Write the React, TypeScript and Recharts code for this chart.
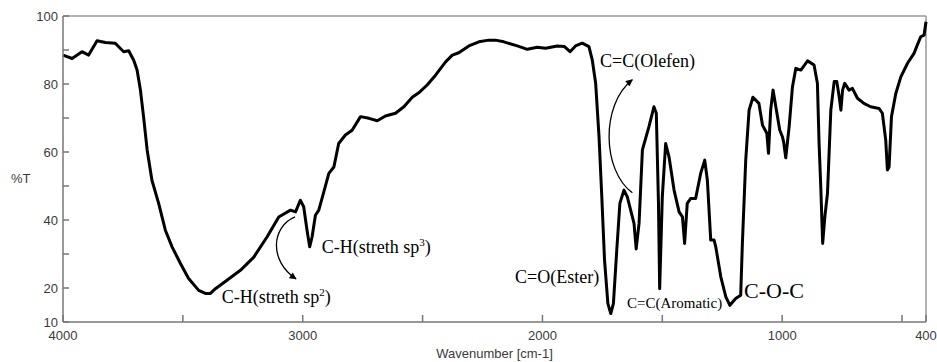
import {
  LineChart,
  Line,
  XAxis,
  YAxis,
  ReferenceLine,
  ReferenceDot,
} from "recharts";

// wavenumber (cm-1) from left to right
const wavenumbers = [
  4000, 3962, 3921, 3893, 3858, 3823, 3782, 3747, 3726, 3705, 3691, 3677, 3664,
  3649, 3629, 3601, 3573, 3545, 3510, 3476, 3434, 3406, 3385, 3364, 3316, 3260,
  3204, 3149, 3100, 3051, 3030, 3010, 2996, 2982, 2971, 2961, 2947, 2933, 2912,
  2891, 2870, 2850, 2822, 2794, 2759, 2724, 2689, 2655, 2613, 2578, 2543, 2516,
  2481, 2446, 2404, 2376, 2349, 2307, 2265, 2224, 2196, 2161, 2105, 2063, 2022,
  1987, 1938, 1908, 1885, 1862, 1834, 1806, 1792, 1778, 1764, 1753, 1741, 1727,
  1715, 1704, 1690, 1677, 1660, 1646, 1632, 1618, 1609, 1597, 1583, 1556, 1535,
  1525, 1516, 1511, 1500, 1486, 1472, 1451, 1430, 1416, 1407, 1396, 1382, 1361,
  1340, 1323, 1312, 1298, 1284, 1277, 1256, 1235, 1218, 1194, 1173, 1166, 1152,
  1138, 1122, 1097, 1082, 1064, 1057, 1048, 1038, 1024, 1010, 999, 994, 985,
  971, 957, 943, 922, 894, 867, 853, 846, 839, 831, 822, 811, 797, 783, 772,
  762, 755, 748, 739, 721, 707, 686, 659, 631, 596, 582, 568, 561, 554, 544,
  526, 505, 477, 450, 436, 422, 408, 400,
];

// %T at each wavenumber above
const transmittance = [
  88.5, 87.5, 89.5, 88.5, 92.7, 92.2, 92.0, 89.5, 89.8, 87.0, 84.1, 78.2, 70.4,
  60.6, 51.7, 44.9, 37.0, 32.1, 27.2, 22.8, 19.3, 18.4, 18.4, 19.8, 22.3, 25.2,
  29.1, 35.0, 40.9, 42.9, 42.4, 45.8, 43.9, 37.0, 32.1, 35.0, 41.4, 42.9, 48.3,
  53.7, 55.6, 62.5, 65.0, 66.4, 70.4, 69.9, 69.2, 70.6, 71.4, 73.3, 76.1, 77.4,
  79.7, 82.6, 86.5, 88.5, 89.2, 91.2, 92.4, 92.9, 92.9, 92.4, 91.2, 90.2, 90.8,
  90.5, 91.2, 91.0, 89.5, 91.2, 92.0, 91.0, 87.0, 80.2, 64.5, 47.8, 28.2, 15.4,
  12.5, 15.4, 31.1, 44.9, 48.8, 46.8, 42.9, 39.0, 31.5, 39.0, 60.6, 67.4, 73.3,
  71.4, 44.9, 19.8, 46.8, 62.5, 58.6, 48.8, 42.4, 40.9, 33.1, 44.9, 46.3, 46.3,
  53.7, 57.6, 51.7, 34.1, 34.1, 32.1, 23.3, 17.4, 14.9, 16.9, 17.9, 33.1, 57.6,
  72.3, 76.1, 74.3, 67.9, 65.5, 59.6, 72.3, 78.2, 72.3, 66.4, 64.5, 63.0, 58.3,
  67.4, 79.2, 84.6, 84.1, 86.8, 85.6, 80.2, 62.5, 49.8, 33.1, 40.9, 47.8, 72.3,
  80.7, 80.7, 76.2, 72.3, 78.2, 80.2, 78.2, 78.7, 75.8, 74.3, 73.3, 72.8, 71.4,
  63.5, 54.7, 55.6, 70.4, 77.2, 82.1, 86.1, 89.0, 91.5, 93.9, 94.4, 98.3,
];

const xTicks = [4000, 3500, 3000, 2500, 2000, 1500, 1000, 500, 400];
const xTickLabels = ["4000", "3000", "2000", "1000", "400"];
const yTicks = [10, 20, 30, 40, 50, 60, 70, 80, 90, 100];
const yTickLabels = ["10", "20", "40", "60", "80", "100"];

// band labels: [text, superscript, wavenumber, %T, font size]
const bandLabels: [string, string, number, number, number][] = [
  ["C-H(streth sp", "2", 3338, 15.6, 18],
  ["C-H(streth sp", "3", 2921, 30.2, 18],
  ["C=O(Ester)", "", 2114, 21.5, 18],
  ["C=C(Olefen)", "", 1760, 85.1, 18],
  ["C=C(Aromatic)", "", 1647, 14.1, 15],
  ["C-O-C", "", 1159, 17.2, 22],
];

// curved arrows: start wavenumber, start %T, svg path relative to start
const arrows: [number, number, string][] = [
  [3032, 40.9, "M0 0 C -24 10, -26 44, 1 62"],
  [1625, 48.0, "M0 0 C -30 -22, -32 -88, 0 -113"],
];

const rows = wavenumbers.map((wn, i) => ({ wn, t: transmittance[i] }));

const axisColor = "#777";
const tickFont = { fontFamily: "'Liberation Sans', Arial, sans-serif", fontSize: 13, fill: "#3a3a3a" };
const serif = "'Liberation Serif', 'Times New Roman', serif";

const XTick = (props: any) => {
  const { x, y, payload } = props;
  const label = String(payload.value);
  return (
    <g>
      <line x1={x} x2={x} y1={y} y2={y - 7} stroke={axisColor} strokeWidth={1.5} />
      {xTickLabels.includes(label) && (
        <text x={x} y={y + 18} textAnchor="middle" {...tickFont}>
          {label}
        </text>
      )}
    </g>
  );
};

const YTick = (props: any) => {
  const { x, y, payload } = props;
  const label = String(payload.value);
  return (
    <g>
      <line x1={x} x2={x + 6} y1={y} y2={y} stroke={axisColor} strokeWidth={1.5} />
      {yTickLabels.includes(label) && (
        <text x={x - 5} y={y + 4.6} textAnchor="end" {...tickFont}>
          {label}
        </text>
      )}
    </g>
  );
};

const BandText = ({ cx, cy, text, sup, size }: any) => (
  <text x={cx} y={cy} fontFamily={serif} fontSize={size} fill="#000">
    {text}
    {sup && (
      <>
        <tspan fontSize={11} dy={-7}>
          {sup}
        </tspan>
        <tspan dy={7}>)</tspan>
      </>
    )}
  </text>
);

const Arrow = ({ cx, cy, d, id }: any) => (
  <g transform={`translate(${cx},${cy})`}>
    <defs>
      <marker
        id={id}
        viewBox="0 0 10 10"
        refX={9}
        refY={5}
        markerWidth={10}
        markerHeight={7}
        markerUnits="userSpaceOnUse"
        orient="auto"
      >
        <path d="M0 0 L10 5 L0 10 z" fill="#000" />
      </marker>
    </defs>
    <path d={d} fill="none" stroke="#000" strokeWidth={1.3} markerEnd={`url(#${id})`} />
  </g>
);

export default function App() {
  return (
    <div>
      <style>{"body{margin:0}"}</style>
      <LineChart
        width={937}
        height={362}
        data={rows}
        margin={{ top: 16, right: 11, bottom: 0, left: 0 }}
      >
        <XAxis
          dataKey="wn"
          type="number"
          domain={[400, 4000]}
          reversed
          ticks={xTicks}
          interval={0}
          tick={XTick}
          tickLine={false}
          tickSize={0}
          tickMargin={0}
          height={40}
          axisLine={{ stroke: axisColor, strokeWidth: 1.5 }}
          label={{
            value: "Wavenumber [cm-1]",
            position: "insideBottom",
            offset: 4,
            ...tickFont,
          }}
        />
        <YAxis
          type="number"
          domain={[10, 100]}
          ticks={yTicks}
          interval={0}
          tick={YTick}
          tickLine={false}
          tickSize={0}
          tickMargin={0}
          width={63}
          axisLine={{ stroke: axisColor, strokeWidth: 1.5 }}
          label={{
            value: "%T",
            position: "insideLeft",
            offset: 11,
            dy: 9,
            ...tickFont,
          }}
        />
        <ReferenceLine y={100} stroke="#999" strokeWidth={1.5} />
        <ReferenceLine x={400} stroke="#999" strokeWidth={1.5} />
        <Line
          dataKey="t"
          type="linear"
          stroke="#000"
          strokeWidth={3}
          strokeLinejoin="round"
          dot={false}
          isAnimationActive={false}
        />
        {bandLabels.map(([text, sup, wn, t, size], i) => (
          <ReferenceDot
            key={"l" + i}
            x={wn}
            y={t}
            r={1}
            ifOverflow="visible"
            shape={(p: any) => <BandText cx={p.cx} cy={p.cy} text={text} sup={sup} size={size} />}
          />
        ))}
        {arrows.map(([wn, t, d], i) => (
          <ReferenceDot
            key={"a" + i}
            x={wn}
            y={t}
            r={1}
            ifOverflow="visible"
            shape={(p: any) => <Arrow cx={p.cx} cy={p.cy} d={d} id={"arrowhead" + i} />}
          />
        ))}
      </LineChart>
    </div>
  );
}
